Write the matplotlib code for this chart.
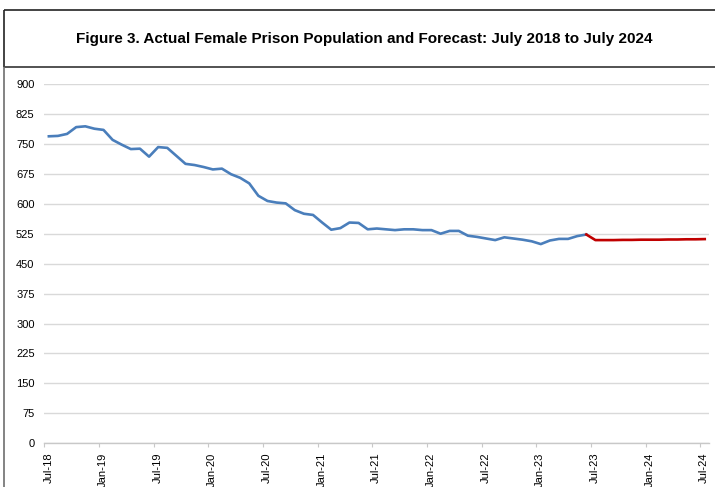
import matplotlib
matplotlib.use('Agg')
import matplotlib.pyplot as plt
import matplotlib.transforms as mtransforms
from matplotlib.lines import Line2D
import numpy as np

plt.rcParams['font.family'] = ['Liberation Sans', 'DejaVu Sans']

title = "Figure 3. Actual Female Prison Population and Forecast: July 2018 to July 2024"

tick_labels = ['Jul-18', 'Jan-19', 'Jul-19', 'Jan-20', 'Jul-20', 'Jan-21', 'Jul-21',
               'Jan-22', 'Jul-22', 'Jan-23', 'Jul-23', 'Jan-24', 'Jul-24']

# Monthly actual population, Jul-18 .. Jun-23
actual = [769, 770, 775, 792, 794, 788, 785, 760, 748, 737, 738, 718,
          742, 740, 720, 700, 697, 692, 686, 688, 674, 665, 651, 620,
          607, 603, 601, 584, 575, 572, 553, 535, 539, 553, 552, 536,
          538, 536, 534, 536, 536, 534, 534, 525, 532, 532, 520, 517,
          513, 509, 516, 513, 510, 506, 499, 508, 512, 512, 519, 523]

# Forecast, Jun-23 .. Jul-24 (starting from last actual)
forecast = [523, 509, 509, 509, 509.5, 509.5, 510, 510, 510, 510.5, 510.5, 511, 511, 511.5]

W, H = 715, 487
fig = plt.figure(figsize=(W / 100, H / 100), dpi=100)

def fline(x0, y0, x1, y1, color, lw):
    fig.lines.append(Line2D([x0 / W, x1 / W], [1 - y0 / H, 1 - y1 / H],
                            transform=fig.transFigure, color=color, lw=lw,
                            solid_capstyle='butt'))

# frames (pixel coordinates)
fline(4, 9.5, 720, 9.5, '#222222', 1.2)      # title box top
fline(4, 9.5, 4, 66.5, '#222222', 1.2)       # title box left
fline(4, 66.5, 720, 66.5, '#444444', 1.3)    # title box bottom
fline(3.8, 66.5, 3.8, 490, '#6e6e6e', 1.2)   # chart box left

fig.text(364 / W, 1 - 39 / H, title, ha='center', va='center',
         fontsize=11, fontweight='bold', color='black')

left, right, top, bottom = 44.3, 709.3, 84.0, 443.3
ax = fig.add_axes([left / W, 1 - bottom / H, (right - left) / W, (bottom - top) / H])

x_actual = np.arange(len(actual)) + 0.5
start = len(actual) - 1
x_fore = np.arange(start, start + len(forecast)) + 0.5

ax.plot(x_actual, actual, color='#4A7EBB', lw=1.9, solid_joinstyle='round', zorder=3)
ax.plot(x_fore, forecast, color='#C00000', lw=1.9, solid_joinstyle='round', zorder=3)

ax.set_xlim(0, 73)
ax.set_ylim(0, 900)
ax.set_yticks(np.arange(0, 901, 75))
ax.set_xticks(np.arange(0, 73, 6))
ax.set_xticklabels(tick_labels, rotation=90, va='top', ha='center')

ax.grid(axis='y', color='#d9d9d9', lw=1.0)
ax.set_axisbelow(True)
for s in ['top', 'right', 'left']:
    ax.spines[s].set_visible(False)
ax.spines['bottom'].set_color('#c8c8c8')
ax.spines['bottom'].set_linewidth(1.0)

ax.tick_params(axis='y', length=0, labelsize=8, pad=7, labelcolor='black')
ax.tick_params(axis='x', length=3, width=0.8, color='#c8c8c8', labelsize=8, pad=3.5,
               labelcolor='black', direction='out')

offset = mtransforms.ScaledTranslation(0.04, 0, fig.dpi_scale_trans)
for lab in ax.get_xticklabels():
    lab.set_transform(lab.get_transform() + offset)

fig.savefig('out.png', dpi=100)
